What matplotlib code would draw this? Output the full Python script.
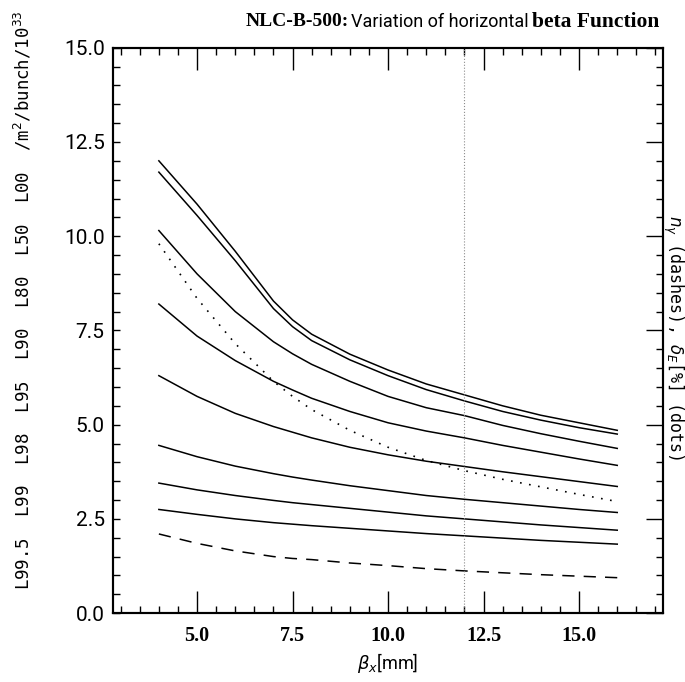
import numpy as np
import matplotlib
matplotlib.use('Agg')
import matplotlib.pyplot as plt
from matplotlib.ticker import MultipleLocator

'''
NLC-B-500: luminosity fractions vs horizontal beta function
'''

beta_x = [4, 5, 6, 7, 7.5, 8, 9, 10, 11, 12, 13, 14, 15, 16]

# solid curves, top to bottom (L00, L50, L80, L90, L95, L98, L99, L99.5)
lum_00 = [12.0, 10.85, 9.6, 8.28, 7.78, 7.4, 6.87, 6.45, 6.08, 5.79, 5.5, 5.25, 5.05, 4.85]
lum_50 = [11.7, 10.55, 9.35, 8.08, 7.6, 7.23, 6.72, 6.3, 5.93, 5.63, 5.35, 5.12, 4.92, 4.75]
lum_80 = [10.15, 9.0, 8.0, 7.2, 6.88, 6.6, 6.15, 5.75, 5.45, 5.24, 4.98, 4.76, 4.56, 4.37]
lum_90 = [8.2, 7.35, 6.7, 6.15, 5.92, 5.7, 5.35, 5.05, 4.83, 4.65, 4.45, 4.27, 4.09, 3.92]
lum_95 = [6.3, 5.75, 5.3, 4.95, 4.8, 4.65, 4.4, 4.2, 4.03, 3.89, 3.75, 3.62, 3.49, 3.36]
lum_98 = [4.45, 4.15, 3.9, 3.7, 3.61, 3.53, 3.38, 3.25, 3.12, 3.02, 2.93, 2.84, 2.75, 2.67]
lum_99 = [3.45, 3.27, 3.12, 2.99, 2.93, 2.88, 2.78, 2.68, 2.58, 2.5, 2.42, 2.34, 2.27, 2.2]
lum_995 = [2.75, 2.62, 2.5, 2.4, 2.36, 2.32, 2.25, 2.18, 2.11, 2.05, 1.99, 1.93, 1.88, 1.83]

n_gamma = [2.1, 1.85, 1.65, 1.5, 1.45, 1.42, 1.33, 1.26, 1.18, 1.12, 1.07, 1.02, 0.98, 0.94]
delta_E = [9.8, 8.35, 7.15, 6.15, 5.75, 5.4, 4.85, 4.4, 4.05, 3.78, 3.55, 3.35, 3.15, 2.96]

beta_nominal = 12.0

thin = ['Roboto', 'DejaVu Sans']
serif = ['Liberation Serif', 'DejaVu Serif']
mono = ['DejaVu Sans Mono']


def main():
    fig = plt.figure(figsize=(6.85, 6.82), dpi=100)
    ax = fig.add_axes([0.165, 0.101, 0.803, 0.829])

    for lum in [lum_00, lum_50, lum_80, lum_90, lum_95, lum_98, lum_99, lum_995]:
        ax.plot(beta_x, lum, '-k', lw=1.1)
    ax.plot(beta_x, delta_E, color='k', lw=1.2, linestyle=(0, (1, 4.5)))
    ax.plot(beta_x, n_gamma, color='k', lw=1.1, linestyle=(0, (8, 6)))
    ax.axvline(beta_nominal, color='0.55', lw=0.8, linestyle=':')

    ax.set_xlim(2.8, 17.2)
    ax.set_ylim(0, 15)

    ax.xaxis.set_minor_locator(MultipleLocator(0.5))
    ax.yaxis.set_minor_locator(MultipleLocator(0.5))
    ax.set_xticks([5, 7.5, 10, 12.5, 15])
    ax.set_xticklabels(['5.0', '7.5', '10.0', '12.5', '15.0'])
    ax.set_yticks([0, 2.5, 5, 7.5, 10, 12.5, 15])
    ax.set_yticklabels(['0.0', '2.5', '5.0', '7.5', '10.0', '12.5', '15.0'])

    ax.tick_params(axis='x', which='both', direction='in', top=True, bottom=True, width=1.0)
    ax.tick_params(axis='x', which='major', length=16, pad=9)
    ax.tick_params(axis='x', which='minor', length=5)
    ax.tick_params(axis='y', which='both', direction='in', left=True, right=False, width=1.0)
    ax.tick_params(axis='y', which='major', length=5, pad=6)
    ax.tick_params(axis='y', which='minor', length=5)

    for lab in ax.get_xticklabels():
        lab.set_family(serif)
        lab.set_weight('bold')
        lab.set_fontsize(14.5)
    for lab in ax.get_yticklabels():
        lab.set_family(thin)
        lab.set_fontsize(15)

    # right axis: same scale, longer major ticks, no labels
    ax2 = ax.twinx()
    ax2.set_ylim(0, 15)
    ax2.yaxis.set_major_locator(MultipleLocator(2.5))
    ax2.yaxis.set_minor_locator(MultipleLocator(0.5))
    ax2.tick_params(axis='y', which='both', direction='in', labelright=False, width=1.0)
    ax2.tick_params(axis='y', which='major', length=12)
    ax2.tick_params(axis='y', which='minor', length=5)

    for a in (ax, ax2):
        for s in a.spines.values():
            s.set_linewidth(1.5)

    ax.set_xlabel(r'$\beta_x$[mm]', family=thin, fontsize=13, labelpad=4)

    # title in three styles
    fig.text(0.358, 0.968, 'NLC-B-500:', family=serif, weight='bold', fontsize=14, va='center')
    fig.text(0.512, 0.968, 'Variation of horizontal', family=thin, fontsize=13, va='center')
    fig.text(0.776, 0.968, 'beta Function', family=serif, weight='bold', fontsize=15.5, va='center')

    fig.text(0.034, 0.56, 'L99.5  L99  L98  L95  L90  L80  L50  L00  /m$^2$/bunch/10$^{33}$',
             family=mono, fontsize=12.5, rotation=90, ha='center', va='center')
    fig.text(0.982, 0.505, r'$n_\gamma$ (dashes), $\delta_E$[%] (dots)',
             family=mono, fontsize=12, rotation=270, ha='center', va='center')

    fig.savefig('out.png', dpi=100)


if __name__ == '__main__': main()
